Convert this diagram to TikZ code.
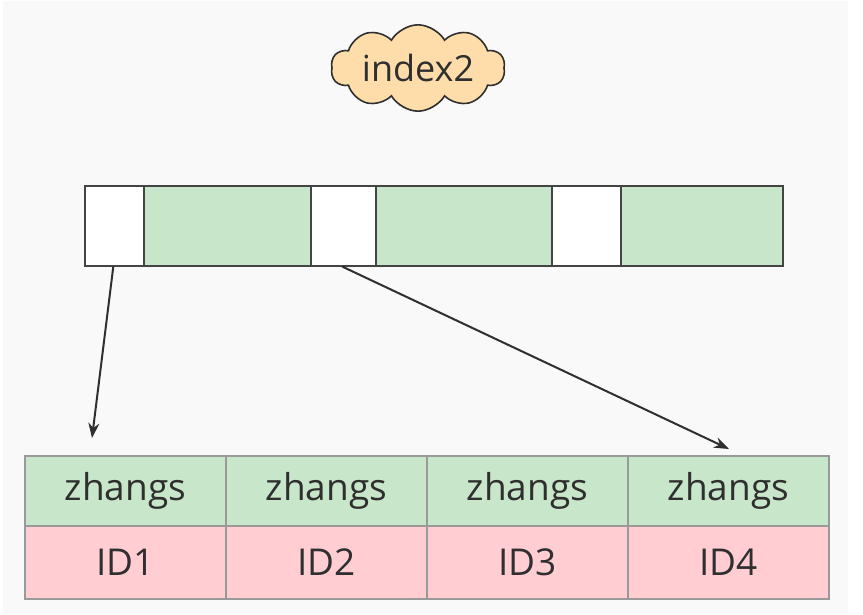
\documentclass[tikz,border=0pt]{standalone}
\usepackage{fontspec}
\setmainfont{Open Sans}
\usetikzlibrary{shapes.symbols,arrows.meta}
\definecolor{bgpage}{HTML}{F9F9F9}
\definecolor{keygreen}{HTML}{C8E6C9}
\definecolor{idpink}{HTML}{FFCDD2}
\definecolor{cloudfill}{HTML}{FFDDAA}
\definecolor{ink}{HTML}{2F2F2F}
\definecolor{gridline}{HTML}{999999}
\tikzset{
  barcell/.style={draw=ink!90, line width=1.6pt, anchor=north west, inner sep=0pt, minimum height=80pt},
  ptrcell/.style={barcell, fill=white},
  keycell/.style={barcell, fill=keygreen},
  tabcell/.style={draw=gridline, line width=1.6pt, anchor=north west, inner sep=0pt,
    minimum width=201pt, text=ink, font=\fontsize{37}{42}\selectfont},
  keyrow/.style={tabcell, fill=keygreen, minimum height=70pt},
  idrow/.style={tabcell, fill=idpink, minimum height=73pt},
  link/.style={draw=ink, line width=2pt, -{Stealth[length=15pt,width=11pt]}},
}
\begin{document}
\begin{tikzpicture}[x=1pt,y=-1pt]
  \useasboundingbox (0,0) rectangle (863,614);
  \fill[white] (0,0) rectangle (863,614);
  \fill[bgpage] (3,1) rectangle (848,614);

  % index name
  \node[cloud, cloud puffs=10, cloud puff arc=120, aspect=2.6, draw=ink, line width=1.6pt,
        fill=cloudfill, text=ink, inner sep=0pt, minimum width=174pt, minimum height=68pt,
        font=\fontsize{36}{40}\selectfont] (idx) at (418,68) {index2};

  % index page: pointers and keys
  \node[ptrcell, minimum width=59pt]  (p1) at (84,185)  {};
  \node[keycell, minimum width=167pt] (k1) at (143,185) {};
  \node[ptrcell, minimum width=65pt]  (p2) at (310,185) {};
  \node[keycell, minimum width=176pt] (k2) at (375,185) {};
  \node[ptrcell, minimum width=69pt]  (p3) at (551,185) {};
  \node[keycell, minimum width=162pt] (k3) at (620,185) {};

  % leaf entries
  \node[keyrow] (z1) at (24,455)  {zhangs};
  \node[keyrow] (z2) at (225,455) {zhangs};
  \node[keyrow] (z3) at (426,455) {zhangs};
  \node[keyrow] (z4) at (627,455) {zhangs};
  \node[idrow] (i1) at (24,525)  {ID1};
  \node[idrow] (i2) at (225,525) {ID2};
  \node[idrow] (i3) at (426,525) {ID3};
  \node[idrow] (i4) at (627,525) {ID4};

  % pointer targets
  \coordinate (t1) at (92,438);
  \coordinate (t2) at (729,449);
  \draw[link] ([xshift=-1pt]p1.south) -- (t1);
  \draw[link] ([xshift=-1pt]p2.south) -- (t2);
\end{tikzpicture}
\end{document}
